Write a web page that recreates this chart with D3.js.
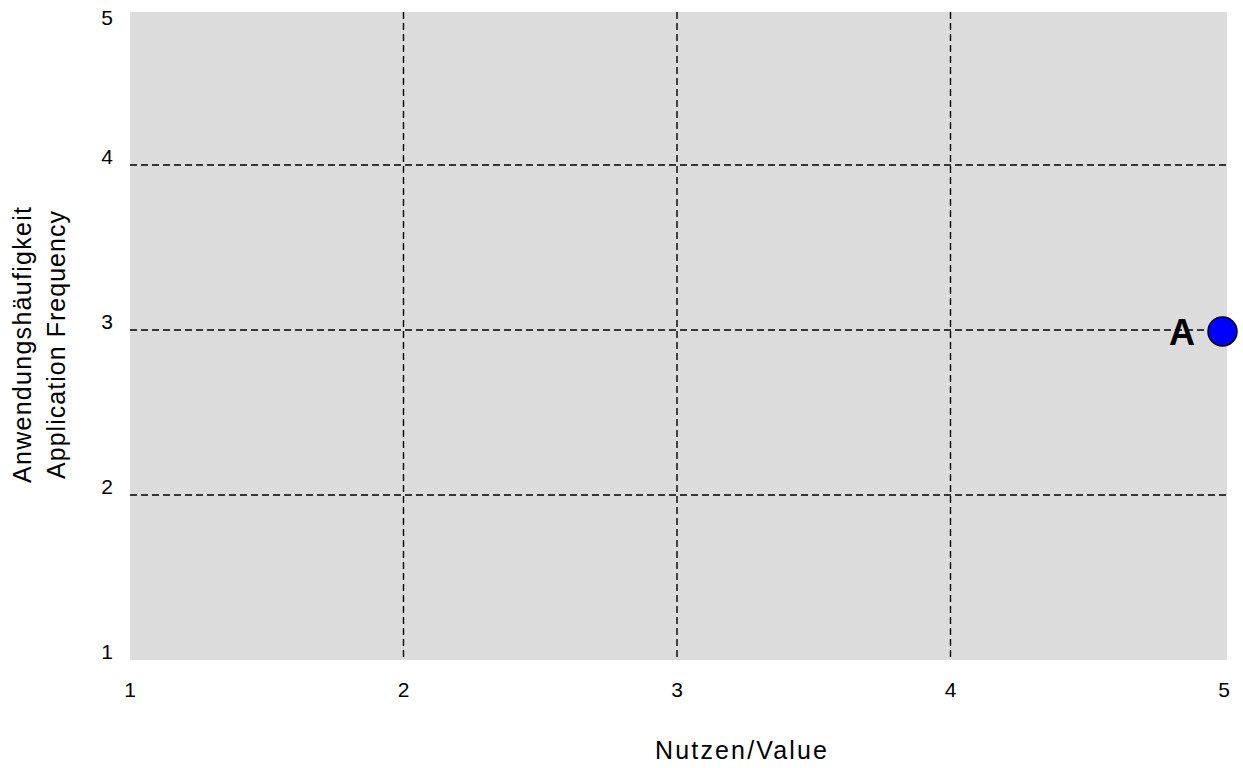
<!DOCTYPE html>
<html>
<head>
<meta charset="utf-8">
<script src="https://cdn.jsdelivr.net/npm/d3@7"></script>
<style>
  html, body { margin: 0; padding: 0; background: #ffffff; }
  svg { display: block; font-family: "Liberation Sans", Arial, sans-serif; }
</style>
</head>
<body>
<svg id="chart" width="1243" height="768"></svg>
<script>
const xTicks = [1, 2, 3, 4, 5];
const yTicks = [1, 2, 3, 4, 5];
const gridValues = [2, 3, 4];
const pointLabels = ["A"];
const pointX = [5];
const pointY = [3];
const xTitle = "Nutzen/Value";
const yTitleLines = ["Anwendungshäufigkeit", "Application Frequency"];

const svg = d3.select("#chart");
const x = d3.scaleLinear().domain([1, 5]).range([130, 1224]);
const y = d3.scaleLinear().domain([1, 5]).range([660, 0]);
const plotTop = 12, plotRight = 1227;

svg.append("rect")
  .attr("x", x(1)).attr("y", plotTop)
  .attr("width", plotRight - x(1)).attr("height", y(1) - plotTop)
  .attr("fill", "#dcdcdc");

const grid = svg.append("g").attr("stroke", "#000").attr("stroke-width", 1.4)
  .attr("stroke-dasharray", "7,4").attr("fill", "none");
grid.selectAll("line.v").data(gridValues).join("line").attr("class", "v")
  .attr("x1", d => x(d)).attr("x2", d => x(d))
  .attr("y1", plotTop).attr("y2", y(1));
grid.selectAll("line.h").data(gridValues).join("line").attr("class", "h")
  .attr("x1", x(1)).attr("x2", plotRight)
  .attr("y1", d => y(d)).attr("y2", d => y(d));

svg.append("g").selectAll("text").data(yTicks).join("text")
  .attr("x", 107).attr("y", d => Math.max(y(d) - 1, 25))
  .attr("text-anchor", "middle").attr("font-size", 21).attr("fill", "#000")
  .text(d => d);

svg.append("g").selectAll("text").data(xTicks).join("text")
  .attr("x", d => x(d)).attr("y", 697)
  .attr("text-anchor", "middle").attr("font-size", 21).attr("fill", "#000")
  .text(d => d);

svg.append("text").attr("x", 741).attr("y", 759)
  .attr("text-anchor", "middle").attr("font-size", 25)
  .attr("textLength", 172).attr("lengthAdjust", "spacing")
  .text(xTitle);

const yTitleLengths = [276, 268];
const yt = svg.append("text").attr("transform", "translate(31,345) rotate(-90)")
  .attr("text-anchor", "middle").attr("font-size", 25);
yTitleLines.forEach((t, i) => {
  yt.append("tspan").attr("x", 0).attr("y", i * 34)
    .attr("textLength", yTitleLengths[i]).attr("lengthAdjust", "spacing").text(t);
});

const pts = pointLabels.map((l, i) => ({ label: l, x: pointX[i], y: pointY[i] }));
const pg = svg.append("g");
pg.selectAll("circle").data(pts).join("circle")
  .attr("cx", d => x(d.x) - 1.5).attr("cy", d => y(d.y) + 1.5).attr("r", 14.5)
  .attr("fill", "#0000ff").attr("stroke", "#000").attr("stroke-width", 1.5);
pg.selectAll("text").data(pts).join("text")
  .attr("x", d => x(d.x) - 42).attr("y", d => y(d.y) + 15)
  .attr("text-anchor", "middle").attr("font-size", 36).attr("font-weight", "bold")
  .text(d => d.label);
</script>
</body>
</html>
